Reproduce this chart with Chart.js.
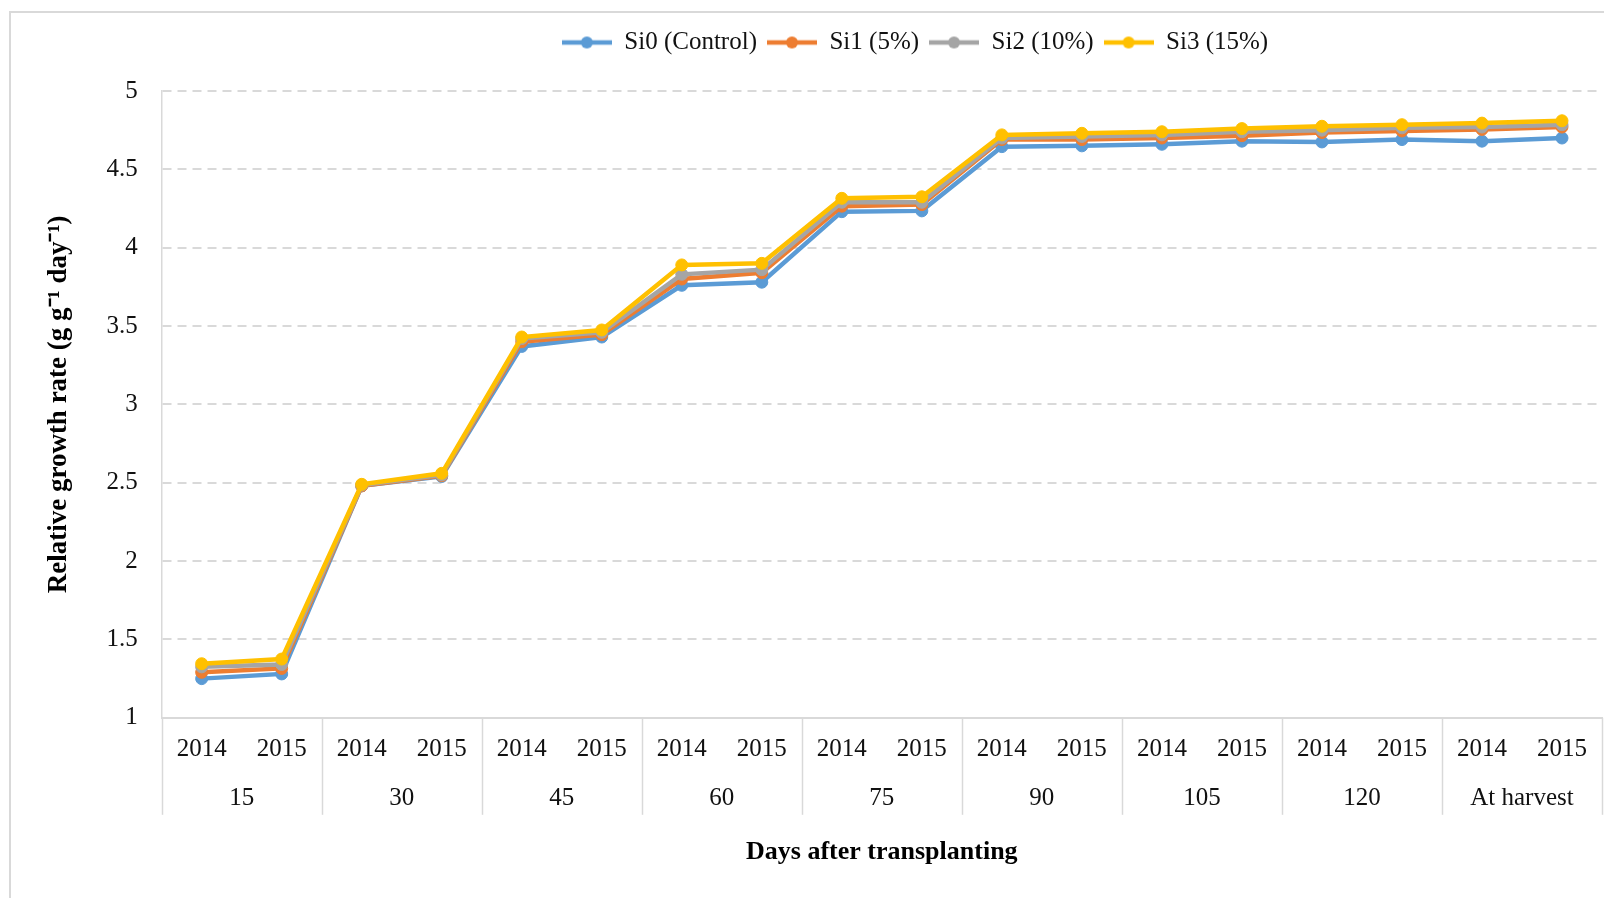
<!DOCTYPE html>
<html>
<head>
<meta charset="utf-8">
<script src="https://cdn.jsdelivr.net/npm/chart.js@4"></script>
<style>
    html, body { margin: 0; padding: 0; background: #fff; overflow: hidden; }
    #wrap {
        position: absolute;
        left: 9px;
        top: 11px;
        width: 1788px;
        height: 887px;
        border-left: 2px solid #d9d9d9;
        border-top: 2px solid #d9d9d9;
    }
</style>
</head>
<body>
<div id="wrap"><canvas id="rgrChart"></canvas></div>
<script>
const years = ['2014', '2015', '2014', '2015', '2014', '2015', '2014', '2015', '2014', '2015',
    '2014', '2015', '2014', '2015', '2014', '2015', '2014', '2015'];
const days = ['15', '30', '45', '60', '75', '90', '105', '120', 'At harvest'];

const si0 = [1.25, 1.28, 2.48, 2.54, 3.37, 3.43, 3.76, 3.78, 4.23, 4.235, 4.645, 4.65, 4.66, 4.68, 4.675, 4.69, 4.68, 4.70];
const si1 = [1.29, 1.315, 2.48, 2.545, 3.40, 3.445, 3.80, 3.84, 4.265, 4.275, 4.69, 4.69, 4.70, 4.715, 4.735, 4.745, 4.755, 4.77];
const si2 = [1.325, 1.34, 2.485, 2.55, 3.42, 3.46, 3.83, 3.86, 4.29, 4.29, 4.70, 4.71, 4.72, 4.74, 4.75, 4.765, 4.77, 4.785];
const si3 = [1.345, 1.375, 2.49, 2.56, 3.43, 3.475, 3.89, 3.90, 4.315, 4.325, 4.72, 4.73, 4.74, 4.76, 4.775, 4.785, 4.795, 4.81];

const seriesNames = ['Si0 (Control)', 'Si1 (5%)', 'Si2 (10%)', 'Si3 (15%)'];
const colors = ['#5b9bd5', '#ed7d31', '#a5a5a5', '#ffc000'];

Chart.defaults.font.family = '"Liberation Serif", "Times New Roman", serif';
Chart.defaults.color = '#111';

// legend marker: short line with a dot, like the office style
function marker(color) {
    const c = document.createElement('canvas');
    c.width = 50;
    c.height = 14;
    const g = c.getContext('2d');
    g.strokeStyle = color;
    g.lineWidth = 4.5;
    g.beginPath();
    g.moveTo(0, 7);
    g.lineTo(50, 7);
    g.stroke();
    g.fillStyle = color;
    g.beginPath();
    g.arc(25, 7, 6, 0, Math.PI * 2);
    g.fill();
    return c;
}
const markers = colors.map(marker);

function line(label, data, color, order) {
    return {
        label: label,
        data: data,
        borderColor: color,
        backgroundColor: color,
        borderWidth: 4.5,
        pointRadius: 6,
        pointHoverRadius: 6,
        pointBorderWidth: 1,
        pointBackgroundColor: color,
        pointBorderColor: color,
        tension: 0,
        order: order
    };
}

// vertical separators between the day groups, running through both label rows
const groupLines = {
    id: 'groupLines',
    afterDraw(chart) {
        const g = chart.scales.x2;
        const ctx = chart.ctx;
        const top = chart.chartArea.bottom;
        const bottom = top + 97;
        const band = g.width / days.length;
        ctx.save();
        ctx.strokeStyle = '#d9d9d9';
        ctx.lineWidth = 1.5;
        for (let i = 0; i <= days.length; i++) {
            const x = Math.round(g.left + i * band) + 0.5;
            ctx.beginPath();
            ctx.moveTo(x, top);
            ctx.lineTo(x, bottom);
            ctx.stroke();
        }
        ctx.restore();
    }
};

new Chart(document.getElementById('rgrChart'), {
    type: 'line',
    data: {
        labels: years,
        datasets: [
            line(seriesNames[0], si0, colors[0], 4),
            line(seriesNames[1], si1, colors[1], 3),
            line(seriesNames[2], si2, colors[2], 2),
            line(seriesNames[3], si3, colors[3], 1)
        ]
    },
    plugins: [groupLines],
    options: {
        responsive: true,
        maintainAspectRatio: false,
        animation: false,
        layout: {
            padding: { left: 20, top: 7, right: 0, bottom: 20 }
        },
        plugins: {
            tooltip: { enabled: false },
            legend: {
                position: 'top',
                labels: {
                    usePointStyle: true,
                    pointStyleWidth: 50,
                    padding: 10,
                    font: { size: 25 },
                    color: '#111',
                    sort: (a, b) => a.datasetIndex - b.datasetIndex,
                    generateLabels: chart =>
                        Chart.defaults.plugins.legend.labels.generateLabels(chart).map(l => ({
                            ...l,
                            pointStyle: markers[l.datasetIndex]
                        }))
                }
            },
            // empty spacer between legend and plot
            title: {
                display: true,
                text: '',
                weight: 500,
                font: { size: 10 },
                padding: { top: 7, bottom: 7 }
            }
        },
        scales: {
            x: {
                type: 'category',
                position: 'bottom',
                offset: true,
                grid: { display: false, drawTicks: false },
                border: { display: true, color: '#d9d9d9', width: 2 },
                ticks: {
                    padding: 17,
                    maxRotation: 0,
                    autoSkip: false,
                    font: { size: 25 }
                }
            },
            x2: {
                type: 'category',
                position: 'bottom',
                labels: days,
                offset: true,
                grid: { display: false, drawTicks: false },
                border: { display: false },
                ticks: {
                    padding: 2,
                    maxRotation: 0,
                    autoSkip: false,
                    font: { size: 25 }
                },
                title: {
                    display: true,
                    text: 'Days after transplanting',
                    font: { size: 26, weight: 'bold' },
                    color: '#000',
                    padding: { top: 21, bottom: 12 }
                }
            },
            y: {
                min: 1,
                max: 5,
                ticks: {
                    stepSize: 0.5,
                    padding: 24,
                    font: { size: 25 },
                    callback: v => String(v)
                },
                grid: {
                    color: '#d9d9d9',
                    lineWidth: 2,
                    drawTicks: false
                },
                border: { display: true, color: '#d9d9d9', width: 1.5, dash: [9, 6] },
                title: {
                    display: true,
                    text: 'Relative growth rate (g g\u207B\u00B9 day\u207B\u00B9)',
                    font: { size: 27, weight: 'bold' },
                    color: '#000',
                    padding: { top: 12, bottom: 7 }
                }
            },
            // invisible right axis keeps the plot the same width as the original
            y2: {
                type: 'linear',
                position: 'right',
                grid: { display: false },
                border: { display: false },
                ticks: { display: false },
                afterFit: scale => { scale.width = 197; }
            }
        }
    }
});
</script>
</body>
</html>
